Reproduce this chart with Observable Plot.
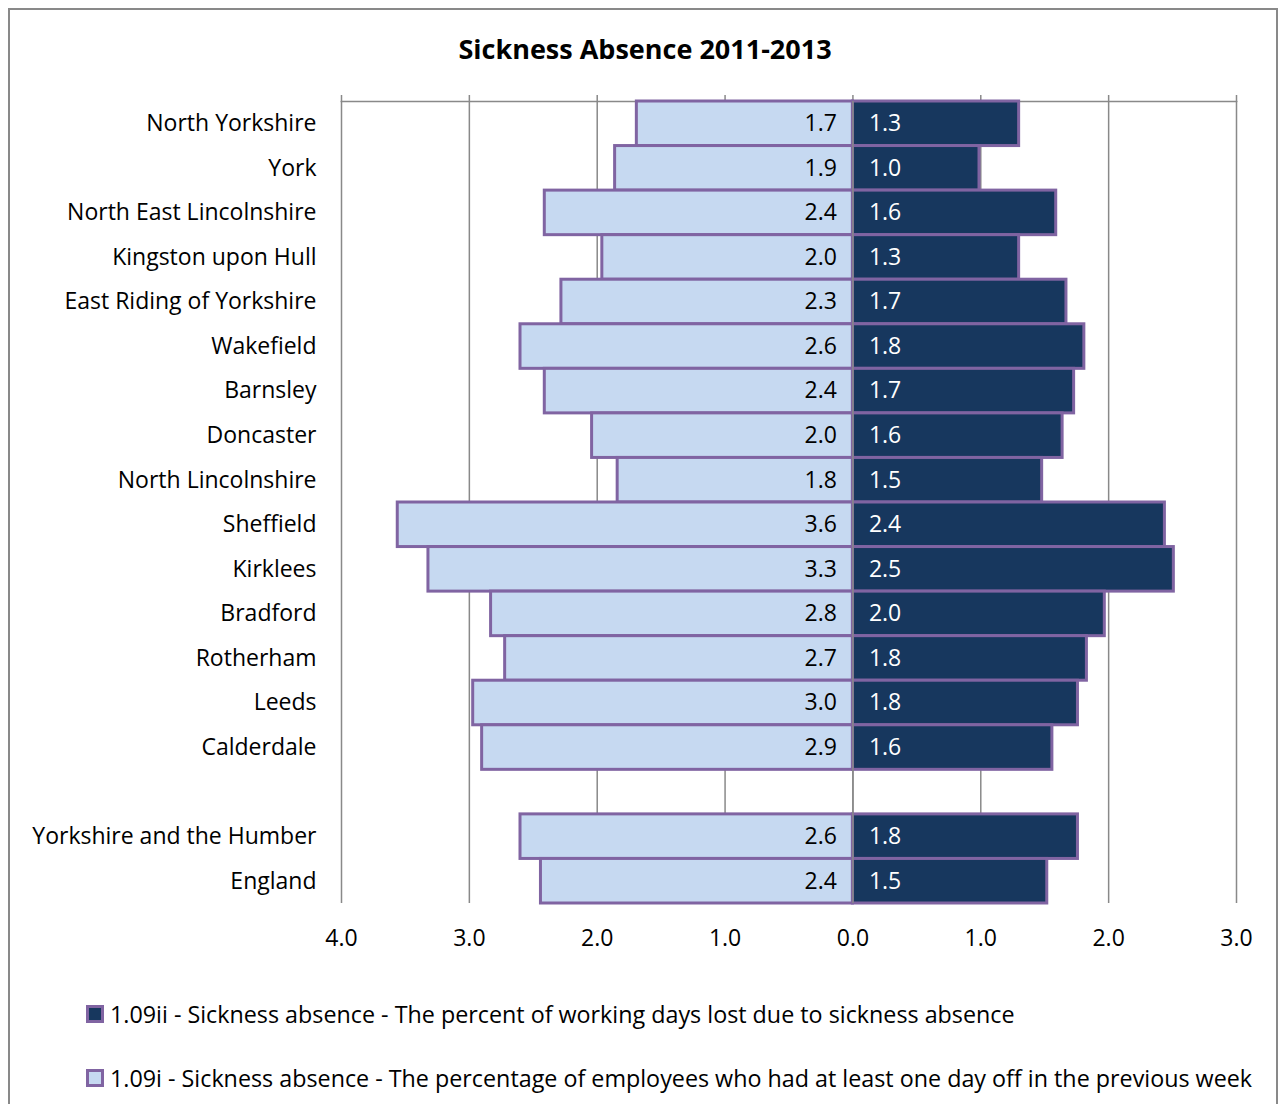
<!DOCTYPE html>
<html>
<head>
<meta charset="utf-8">
<script src="https://cdn.jsdelivr.net/npm/d3@7"></script>
<script src="https://cdn.jsdelivr.net/npm/@observablehq/plot@0.6"></script>
<style>
  body { margin: 0; background: #fff; font-family: "Open Sans", sans-serif; }
  #frame { position: absolute; left: 8px; top: 8px; width: 1270px; height: 1130px; border: 2px solid #898989; box-sizing: border-box; }
  #title { position: absolute; left: 0; width: 1290px; top: 31px; text-align: center; font-weight: bold; font-size: 27px; line-height: 36px; color: #000; }
  #chart { position: absolute; left: 0; top: 0; }
  .legend-item { position: absolute; left: 86px; display: flex; align-items: center; font-size: 23.3px; color: #000; white-space: nowrap; }
  .swatch { width: 18px; height: 18px; box-sizing: border-box; border: 3px solid #8064a2; margin-right: 6px; }
</style>
</head>
<body>
<div id="frame"></div>
<div id="title">Sickness Absence 2011-2013</div>
<div id="chart"></div>
<div id="legend"></div>
<script>
// Local authorities (top to bottom), then the regional and national comparators
const regions = [
  "North Yorkshire", "York", "North East Lincolnshire", "Kingston upon Hull",
  "East Riding of Yorkshire", "Wakefield", "Barnsley", "Doncaster",
  "North Lincolnshire", "Sheffield", "Kirklees", "Bradford", "Rotherham",
  "Leeds", "Calderdale", "Yorkshire and the Humber", "England"
];
// 1.09i – % of employees with at least one day off in the previous week
const employeesOff = [1.69, 1.86, 2.41, 1.96, 2.28, 2.60, 2.41, 2.04, 1.84, 3.56, 3.32, 2.83, 2.72, 2.97, 2.90, 2.60, 2.44];
// 1.09ii – % of working days lost due to sickness absence
const daysLost = [1.30, 0.99, 1.59, 1.30, 1.67, 1.81, 1.73, 1.64, 1.48, 2.44, 2.51, 1.97, 1.83, 1.76, 1.56, 1.76, 1.52];
const xTicks = [-4, -3, -2, -1, 0, 1, 2, 3];
const legendLabels = [
  "1.09ii - Sickness absence - The percent of working days lost due to sickness absence",
  "1.09i - Sickness absence - The percentage of employees who had at least one day off in the previous week"
];

const purple = "#8064a2", light = "#c6d9f1", navy = "#17375e", grid = "#898989";
const font = "'Open Sans', sans-serif";

// blank spacer row separates the local authorities from the comparators
const yDomain = [...regions.slice(0, 15), " ", ...regions.slice(15)];
const rows = regions.map((name, i) => ({name, off: employeesOff[i], lost: daysLost[i]}));

const chart = Plot.plot({
  width: 1283,
  height: 963,
  marginLeft: 341,
  marginRight: 47,
  marginTop: 101,
  marginBottom: 60,
  style: {fontFamily: font, fontSize: "23px", color: "#000", background: "transparent"},
  x: {domain: [-4, 3]},
  y: {domain: yDomain, padding: 0, round: false, label: null},
  marks: [
    Plot.gridX(xTicks, {stroke: grid, strokeOpacity: 1, strokeWidth: 1.5}),
    Plot.frame({anchor: "top", stroke: grid, strokeWidth: 1.5}),
    Plot.axisX(xTicks, {anchor: "top", tickSize: 7, tickFormat: () => "", stroke: grid, strokeWidth: 1.5, label: null}),
    Plot.barX(rows, {x1: d => -d.off, x2: 0, y: "name", fill: light, stroke: purple, strokeWidth: 3}),
    Plot.barX(rows, {x1: 0, x2: "lost", y: "name", fill: navy, stroke: purple, strokeWidth: 3}),
    Plot.ruleX([0], {stroke: grid, strokeWidth: 1.5}),
    Plot.text(rows, {x: 0, y: "name", text: d => d.off.toFixed(1), textAnchor: "end", dx: -16, fill: "#000", fontSize: 23}),
    Plot.text(rows, {x: 0, y: "name", text: d => d.lost.toFixed(1), textAnchor: "start", dx: 16, fill: "#fff", fontSize: 23}),
    Plot.axisY({anchor: "left", tickSize: 0, tickPadding: 25, fontSize: 23, label: null}),
    Plot.axisX(xTicks, {anchor: "bottom", tickSize: 0, tickPadding: 26, fontSize: 23, tickFormat: d => Math.abs(d).toFixed(1), label: null})
  ]
});
document.getElementById("chart").append(chart);

// legend: dark series first, light series second
const legend = document.getElementById("legend");
[[navy, 1015], [light, 1079]].forEach(([fill, cy], i) => {
  const item = document.createElement("div");
  item.className = "legend-item";
  item.style.top = (cy - 16) + "px";
  item.style.height = "30px";
  const sw = document.createElement("span");
  sw.className = "swatch";
  sw.style.background = fill;
  item.append(sw, document.createTextNode(legendLabels[i]));
  legend.append(item);
});
</script>
</body>
</html>
